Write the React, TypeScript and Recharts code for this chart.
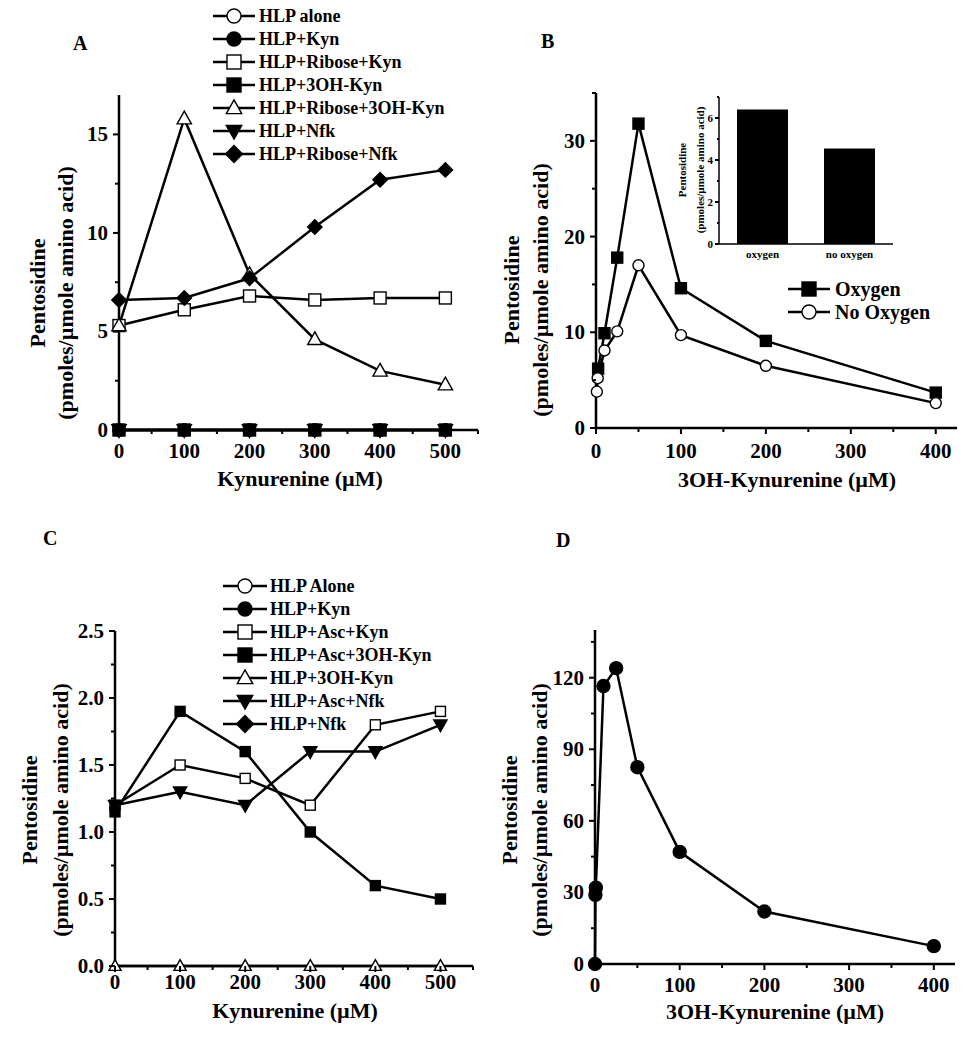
import React from "react";
import { LineChart, Line, XAxis, YAxis, BarChart, Bar } from "recharts";

const FONT = "'Liberation Serif', 'Times New Roman', serif";

// ---- Panel A: Kynurenine (µM) vs pentosidine
const kynA = [0, 100, 200, 300, 400, 500];
const hlpAloneA = [0, 0, 0, 0, 0, 0];
const hlpKynA = [0, 0, 0, 0, 0, 0];
const hlpRiboseKynA = [5.3, 6.1, 6.8, 6.6, 6.7, 6.7];
const hlp3ohKynA = [0, 0, 0, 0, 0, 0];
const hlpRibose3ohKynA = [5.3, 15.8, 7.9, 4.6, 3.0, 2.3];
const hlpNfkA = [0, 0, 0, 0, 0, 0];
const hlpRiboseNfkA = [6.6, 6.7, 7.7, 10.3, 12.7, 13.2];

// ---- Panel B: 3OH-Kynurenine, oxygen vs no oxygen
const oxyX = [2.5, 10, 25, 50, 100, 200, 400];
const oxyY = [6.2, 9.9, 17.8, 31.8, 14.6, 9.1, 3.7];
const noOxyX = [1, 2, 10, 25, 50, 100, 200, 400];
const noOxyY = [3.8, 5.2, 8.1, 10.1, 17.0, 9.7, 6.5, 2.6];
const insetNames = ["oxygen", "no oxygen"];
const insetValues = [6.4, 4.55];

// ---- Panel C: Kynurenine with ascorbate
const kynC = [0, 100, 200, 300, 400, 500];
const hlp3ohKynC = [0, 0, 0, 0, 0, 0];
const hlpAscKynC = [1.2, 1.5, 1.4, 1.2, 1.8, 1.9];
const hlpAsc3ohKynC = [1.15, 1.9, 1.6, 1.0, 0.6, 0.5];
const hlpAscNfkC = [1.2, 1.3, 1.2, 1.6, 1.6, 1.8];

// ---- Panel D: 3OH-Kynurenine
const d3ohX = [0, 0.5, 1, 10, 25, 50, 100, 200, 400];
const d3ohY = [0, 29, 32, 116.5, 124, 82.5, 47, 22, 7.5];

const pts = (xs: number[], ys: number[]) => xs.map((x, i) => ({ x, y: ys[i] }));
const range = (a: number, b: number, s: number) => {
  const out: number[] = [];
  for (let v = a; v <= b + 1e-9; v += s) out.push(+v.toFixed(4));
  return out;
};

type Shape = "circle" | "square" | "triangle" | "triangleDown" | "diamond";

function Marker({ cx, cy, shape, filled, size }: { cx: number; cy: number; shape: Shape; filled: boolean; size: number }) {
  const s = size / 2;
  const p = { fill: filled ? "#000" : "#fff", stroke: "#000", strokeWidth: 1.4 };
  if (cx == null || cy == null) return null;
  switch (shape) {
    case "circle":
      return <circle cx={cx} cy={cy} r={s} {...p} />;
    case "square":
      return <rect x={cx - s} y={cy - s} width={size} height={size} {...p} />;
    case "triangle":
      return <polygon points={`${cx},${cy - s * 1.15} ${cx + s * 1.1},${cy + s * 0.8} ${cx - s * 1.1},${cy + s * 0.8}`} {...p} />;
    case "triangleDown":
      return <polygon points={`${cx},${cy + s * 1.15} ${cx + s * 1.1},${cy - s * 0.8} ${cx - s * 1.1},${cy - s * 0.8}`} {...p} />;
    default:
      return <polygon points={`${cx},${cy - s * 1.2} ${cx + s * 1.2},${cy} ${cx},${cy + s * 1.2} ${cx - s * 1.2},${cy}`} {...p} />;
  }
}

const dotFn = (name: string, shape: Shape, filled: boolean, size: number) => (props: any) => (
  <Marker key={`${name}-${props.index}`} cx={props.cx} cy={props.cy} shape={shape} filled={filled} size={size} />
);

// custom ticks: draws its own tick mark, label only for major values
const xTick = (major: number[], off = 28, fs = 21, len = 5) => (props: any) => {
  const { x, y, payload } = props;
  const isMajor = major.includes(payload.value);
  return (
    <g>
      <line x1={x} x2={x} y1={y} y2={y + (isMajor ? len + 1 : len - 1)} stroke="#000" strokeWidth={2} />
      {isMajor && (
        <text x={x} y={y + off} textAnchor="middle" fontFamily={FONT} fontWeight="bold" fontSize={fs} fill="#000">
          {payload.value}
        </text>
      )}
    </g>
  );
};

const yTick = (major: number[], fmt: (v: number) => string, fs = 21, len = 6, gap = 11) => (props: any) => {
  const { x, y, payload } = props;
  const isMajor = major.includes(payload.value);
  return (
    <g>
      <line x1={x} x2={x - (isMajor ? len : len - 2)} y1={y} y2={y} stroke="#000" strokeWidth={2} />
      {isMajor && (
        <text x={x - gap} y={y} textAnchor="end" dominantBaseline="central" fontFamily={FONT} fontWeight="bold" fontSize={fs} fill="#000">
          {fmt(payload.value)}
        </text>
      )}
    </g>
  );
};

const axisLine = { stroke: "#000", strokeWidth: 2.5 };

type Series = { name: string; data: { x: number; y: number }[]; shape: Shape; filled: boolean; size: number };

// plot area = [margin.left, width - margin.right] x [margin.top, height - margin.bottom]
function Panel({
  left, top, width, height, margin, xDomain, xTicks, xMajor, xOff, yDomain, yTicks, yMajor, yFmt, series,
}: {
  left: number; top: number; width: number; height: number;
  margin: { top: number; right: number; bottom: number; left: number };
  xDomain: [number, number]; xTicks: number[]; xMajor: number[]; xOff: number;
  yDomain: [number, number]; yTicks: number[]; yMajor: number[]; yFmt: (v: number) => string;
  series: Series[];
}) {
  const m = { ...margin, left: margin.left - 1, bottom: margin.bottom - 1 };
  return (
    <div style={{ position: "absolute", left, top }}>
      <LineChart width={width} height={height} margin={m}>
        <XAxis type="number" dataKey="x" domain={xDomain} ticks={xTicks} interval={0} height={1}
          tickSize={0} tickMargin={0} tickLine={false} axisLine={axisLine} tick={xTick(xMajor, xOff)} />
        <YAxis type="number" dataKey="y" domain={yDomain} ticks={yTicks} interval={0} width={1}
          tickSize={0} tickMargin={0} tickLine={false} axisLine={axisLine} tick={yTick(yMajor, yFmt)} />
        {series.map((s) => (
          <Line key={s.name} data={s.data} dataKey="y" name={s.name} type="linear" stroke="#000" strokeWidth={2.5}
            dot={dotFn(s.name, s.shape, s.filled, s.size)} activeDot={false} legendType="none" isAnimationActive={false} />
        ))}
      </LineChart>
    </div>
  );
}

function LegendRows({ x1, x2, textX, ys, items, fs, size }: {
  x1: number; x2: number; textX: number; ys: number[]; fs: number; size: number;
  items: { label: string; shape: Shape; filled: boolean }[];
}) {
  return (
    <g>
      {items.map((it, i) => (
        <g key={it.label}>
          <line x1={x1} x2={x2} y1={ys[i]} y2={ys[i]} stroke="#000" strokeWidth={2.5} />
          <Marker cx={(x1 + x2) / 2} cy={ys[i]} shape={it.shape} filled={it.filled} size={size} />
          <text x={textX} y={ys[i]} dominantBaseline="central" fontFamily={FONT} fontWeight="bold" fontSize={fs} fill="#000">
            {it.label}
          </text>
        </g>
      ))}
    </g>
  );
}

function YTitle({ x1, x2, cy, fs }: { x1: number; x2: number; cy: number; fs: number }) {
  const t = { textAnchor: "middle" as const, dominantBaseline: "central" as const, fontFamily: FONT, fontWeight: "bold", fontSize: fs, fill: "#000" };
  return (
    <g>
      <text transform={`translate(${x1},${cy}) rotate(-90)`} {...t}>Pentosidine</text>
      <text transform={`translate(${x2},${cy}) rotate(-90)`} {...t}>(pmoles/µmole amino acid)</text>
    </g>
  );
}

const titleStyle = { fontFamily: FONT, fontWeight: "bold", fontSize: 22, fill: "#000", textAnchor: "middle" as const };

export default function App() {
  const seriesA: Series[] = [
    { name: "HLP alone", data: pts(kynA, hlpAloneA), shape: "circle", filled: false, size: 12 },
    { name: "HLP+Kyn", data: pts(kynA, hlpKynA), shape: "circle", filled: true, size: 12 },
    { name: "HLP+3OH-Kyn", data: pts(kynA, hlp3ohKynA), shape: "square", filled: true, size: 12 },
    { name: "HLP+Nfk", data: pts(kynA, hlpNfkA), shape: "triangleDown", filled: true, size: 13 },
    { name: "HLP+Ribose+Kyn", data: pts(kynA, hlpRiboseKynA), shape: "square", filled: false, size: 12 },
    { name: "HLP+Ribose+3OH-Kyn", data: pts(kynA, hlpRibose3ohKynA), shape: "triangle", filled: false, size: 13 },
    { name: "HLP+Ribose+Nfk", data: pts(kynA, hlpRiboseNfkA), shape: "diamond", filled: true, size: 12 },
  ];
  const seriesB: Series[] = [
    { name: "Oxygen", data: pts(oxyX, oxyY), shape: "square", filled: true, size: 11 },
    { name: "No Oxygen", data: pts(noOxyX, noOxyY), shape: "circle", filled: false, size: 11 },
  ];
  const seriesC: Series[] = [
    { name: "HLP+3OH-Kyn", data: pts(kynC, hlp3ohKynC), shape: "triangle", filled: false, size: 11 },
    { name: "HLP+Asc+Kyn", data: pts(kynC, hlpAscKynC), shape: "square", filled: false, size: 10 },
    { name: "HLP+Asc+Nfk", data: pts(kynC, hlpAscNfkC), shape: "triangleDown", filled: true, size: 12 },
    { name: "HLP+Asc+3OH-Kyn", data: pts(kynC, hlpAsc3ohKynC), shape: "square", filled: true, size: 10 },
  ];
  const seriesD: Series[] = [
    { name: "HLP+3OH-Kyn", data: pts(d3ohX, d3ohY), shape: "circle", filled: true, size: 13 },
  ];
  const insetData = insetNames.map((name, i) => ({ name, value: insetValues[i] }));

  const legendA = [
    { label: "HLP alone", shape: "circle" as Shape, filled: false },
    { label: "HLP+Kyn", shape: "circle" as Shape, filled: true },
    { label: "HLP+Ribose+Kyn", shape: "square" as Shape, filled: false },
    { label: "HLP+3OH-Kyn", shape: "square" as Shape, filled: true },
    { label: "HLP+Ribose+3OH-Kyn", shape: "triangle" as Shape, filled: false },
    { label: "HLP+Nfk", shape: "triangleDown" as Shape, filled: true },
    { label: "HLP+Ribose+Nfk", shape: "diamond" as Shape, filled: true },
  ];
  const legendC = [
    { label: "HLP Alone", shape: "circle" as Shape, filled: false },
    { label: "HLP+Kyn", shape: "circle" as Shape, filled: true },
    { label: "HLP+Asc+Kyn", shape: "square" as Shape, filled: false },
    { label: "HLP+Asc+3OH-Kyn", shape: "square" as Shape, filled: true },
    { label: "HLP+3OH-Kyn", shape: "triangle" as Shape, filled: false },
    { label: "HLP+Asc+Nfk", shape: "triangleDown" as Shape, filled: true },
    { label: "HLP+Nfk", shape: "diamond" as Shape, filled: true },
  ];
  const legendB = [
    { label: "Oxygen", shape: "square" as Shape, filled: true },
    { label: "No Oxygen", shape: "circle" as Shape, filled: false },
  ];

  return (
    <div style={{ position: "absolute", left: 0, top: 0, width: 977, height: 1050, background: "#fff", overflow: "hidden" }}>
      {/* A */}
      <Panel left={0} top={0} width={488} height={525} margin={{ top: 95, right: 10, bottom: 95, left: 119 }}
        xDomain={[0, 550]} xTicks={range(0, 550, 50)} xMajor={range(0, 500, 100)} xOff={28}
        yDomain={[0, 17]} yTicks={range(0, 15, 2.5)} yMajor={[0, 5, 10, 15]} yFmt={(v) => String(v)}
        series={seriesA} />
      {/* B */}
      <Panel left={488} top={0} width={489} height={525} margin={{ top: 93, right: 20, bottom: 97, left: 108 }}
        xDomain={[0, 425]} xTicks={range(0, 400, 50)} xMajor={range(0, 400, 100)} xOff={30}
        yDomain={[0, 35]} yTicks={range(0, 35, 5)} yMajor={[0, 10, 20, 30]} yFmt={(v) => String(v)}
        series={seriesB} />
      {/* B inset */}
      <div style={{ position: "absolute", left: 640, top: 80 }}>
        <BarChart width={260} height={190} data={insetData} margin={{ top: 17, right: 7, bottom: 25, left: 78 }}>
          <XAxis dataKey="name" height={1} tickSize={0} tickMargin={0} tickLine={false} axisLine={{ stroke: "#000", strokeWidth: 1.5 }}
            tick={(p: any) => (
              <text x={p.x} y={p.y + 14} textAnchor="middle" fontFamily={FONT} fontWeight="bold" fontSize={11} fill="#000">{p.payload.value}</text>
            )} />
          <YAxis type="number" domain={[0, 7]} ticks={range(0, 7, 1)} interval={0} width={1} tickSize={0} tickMargin={0}
            tickLine={false} axisLine={{ stroke: "#000", strokeWidth: 1.5 }} tick={yTick([0, 2, 4, 6], (v) => String(v), 11, 4, 6)} />
          <Bar dataKey="value" fill="#000" barSize={51} isAnimationActive={false} />
        </BarChart>
      </div>
      {/* C */}
      <Panel left={0} top={525} width={488} height={525} margin={{ top: 106, right: 15, bottom: 84, left: 115 }}
        xDomain={[0, 550]} xTicks={range(0, 550, 50)} xMajor={range(0, 500, 100)} xOff={23}
        yDomain={[0, 2.5]} yTicks={range(0, 2.5, 0.25)} yMajor={[0, 0.5, 1, 1.5, 2, 2.5]} yFmt={(v) => v.toFixed(1)}
        series={seriesC} />
      {/* D */}
      <Panel left={488} top={525} width={489} height={525} margin={{ top: 105, right: 22, bottom: 86, left: 107 }}
        xDomain={[0, 425]} xTicks={range(0, 400, 50)} xMajor={range(0, 400, 100)} xOff={28}
        yDomain={[0, 140]} yTicks={range(0, 135, 15)} yMajor={[0, 30, 60, 90, 120]} yFmt={(v) => String(v)}
        series={seriesD} />

      {/* titles, panel letters, legends */}
      <svg width={977} height={1050} style={{ position: "absolute", left: 0, top: 0, pointerEvents: "none" }}>
        <g fontFamily={FONT} fontWeight="bold" fontSize={20} fill="#000">
          <text x={73} y={50}>A</text>
          <text x={541} y={48}>B</text>
          <text x={43} y={545}>C</text>
          <text x={556} y={547}>D</text>
        </g>
        <text x={300} y={486} {...titleStyle}>Kynurenine (µM)</text>
        <text x={787} y={487} {...titleStyle}>3OH-Kynurenine (µM)</text>
        <text x={295} y={1018} {...titleStyle}>Kynurenine (µM)</text>
        <text x={775} y={1019} {...titleStyle}>3OH-Kynurenine (µM)</text>
        <YTitle x1={37} x2={65} cy={293} fs={22} />
        <YTitle x1={511} x2={540} cy={290} fs={22} />
        <YTitle x1={29} x2={60} cy={810} fs={22} />
        <YTitle x1={509} x2={539} cy={810} fs={22} />
        <YTitle x1={682} x2={700} cy={170} fs={11} />
        <LegendRows x1={213} x2={255} textX={259} ys={[16, 39, 62, 85, 108, 131, 154]} items={legendA} fs={18} size={14} />
        <LegendRows x1={223} x2={267} textX={270} ys={[586, 609, 632, 655, 678, 701, 724]} items={legendC} fs={18} size={14} />
        <LegendRows x1={788} x2={830} textX={835} ys={[289, 312]} items={legendB} fs={20} size={14} />
      </svg>
    </div>
  );
}
